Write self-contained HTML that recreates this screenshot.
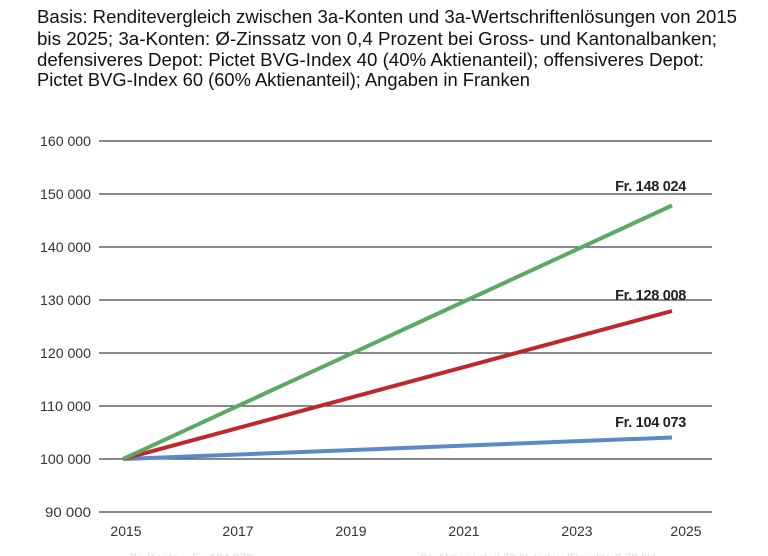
<!DOCTYPE html>
<html><head><meta charset="utf-8"><style>
body{margin:0;background:#fff;width:768px;height:556px;overflow:hidden;font-family:"Liberation Sans",sans-serif;}
</style></head><body>
<svg width="768" height="556" style="position:absolute;left:0;top:0" font-family="Liberation Sans, sans-serif">
<g font-size="18" fill="#111" lengthAdjust="spacingAndGlyphs">
<text x="37" y="23" textLength="700" lengthAdjust="spacingAndGlyphs">Basis: Renditevergleich zwischen 3a-Konten und 3a-Wertschriftenlösungen von 2015</text>
<text x="37" y="45" textLength="680" lengthAdjust="spacingAndGlyphs">bis 2025; 3a-Konten: Ø-Zinssatz von 0,4 Prozent bei Gross- und Kantonalbanken;</text>
<text x="37" y="66" textLength="667" lengthAdjust="spacingAndGlyphs">defensiveres Depot: Pictet BVG-Index 40 (40% Aktienanteil); offensiveres Depot:</text>
<text x="37" y="86" textLength="493" lengthAdjust="spacingAndGlyphs">Pictet BVG-Index 60 (60% Aktienanteil); Angaben in Franken</text>
</g>
<g stroke="#444" stroke-width="1.3">
<line x1="99" x2="712" y1="141" y2="141"/><line x1="99" x2="712" y1="194" y2="194"/><line x1="99" x2="712" y1="247" y2="247"/><line x1="99" x2="712" y1="300" y2="300"/><line x1="99" x2="712" y1="353" y2="353"/><line x1="99" x2="712" y1="406" y2="406"/><line x1="99" x2="712" y1="459" y2="459"/><line x1="99" x2="712" y1="512" y2="512"/>
</g>
<g font-size="14" fill="#333" text-anchor="end">
<text x="91" y="146" textLength="51" lengthAdjust="spacingAndGlyphs">160 000</text><text x="91" y="199" textLength="51" lengthAdjust="spacingAndGlyphs">150 000</text><text x="91" y="252" textLength="51" lengthAdjust="spacingAndGlyphs">140 000</text><text x="91" y="305" textLength="51" lengthAdjust="spacingAndGlyphs">130 000</text><text x="91" y="358" textLength="51" lengthAdjust="spacingAndGlyphs">120 000</text><text x="91" y="411" textLength="51" lengthAdjust="spacingAndGlyphs">110 000</text><text x="91" y="464" textLength="51" lengthAdjust="spacingAndGlyphs">100 000</text><text x="91" y="517" textLength="46" lengthAdjust="spacingAndGlyphs">90 000</text>
</g>
<g font-size="14" fill="#333" text-anchor="middle">
<text x="126" y="536">2015</text><text x="238" y="536">2017</text><text x="351" y="536">2019</text><text x="464" y="536">2021</text><text x="577" y="536">2023</text><text x="686" y="536">2025</text>
</g>
<line x1="123" y1="459" x2="672" y2="437.5" stroke="#5b8ac6" stroke-width="4"/>
<line x1="123" y1="459" x2="672" y2="311" stroke="#c0272d" stroke-width="4"/>
<line x1="123" y1="459" x2="672" y2="205.5" stroke="#5aaa62" stroke-width="4"/>
<g font-size="14.5" font-weight="bold" fill="#222" text-anchor="end" letter-spacing="-0.3">
<text x="686" y="191">Fr. 148 024</text><text x="686" y="300">Fr. 128 008</text><text x="686" y="427">Fr. 104 073</text>
</g>
<g font-size="12" fill="#ddd"><text x="130" y="562">3a-Konto – Fr. 104 073</text><text x="420" y="562">3a-Aktienanteil 60 % Index (Rendite 3,79 %)</text></g>
</svg>
</body></html>
